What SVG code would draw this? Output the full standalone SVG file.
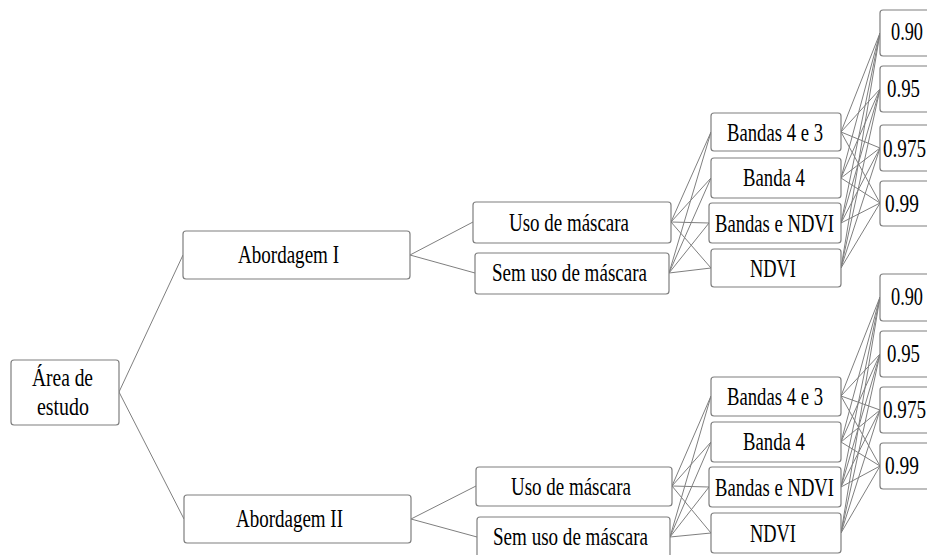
<svg xmlns="http://www.w3.org/2000/svg" width="927" height="555" viewBox="0 0 927 555">
<style>
.box{fill:#fff;stroke:#7f7f7f;stroke-width:1.2}
.c line{stroke:#7f7f7f;stroke-width:1}
</style>
<rect width="927" height="555" fill="#fff"/>
<g class="c" id="connectors">
<line x1="119" y1="392" x2="183" y2="255"/>
<line x1="119" y1="392" x2="184" y2="519"/>
<line x1="410" y1="255" x2="473" y2="222"/>
<line x1="410" y1="255" x2="475" y2="273"/>
<line x1="411" y1="519" x2="476" y2="486"/>
<line x1="411" y1="519" x2="477" y2="537"/>
<line x1="671" y1="222" x2="711" y2="132"/>
<line x1="671" y1="222" x2="711" y2="178"/>
<line x1="671" y1="222" x2="709" y2="223"/>
<line x1="671" y1="222" x2="711" y2="268"/>
<line x1="669" y1="273" x2="711" y2="132"/>
<line x1="669" y1="273" x2="711" y2="178"/>
<line x1="669" y1="273" x2="709" y2="223"/>
<line x1="669" y1="273" x2="711" y2="268"/>
<line x1="672" y1="486" x2="711" y2="396"/>
<line x1="672" y1="486" x2="711" y2="442"/>
<line x1="672" y1="486" x2="709" y2="487"/>
<line x1="672" y1="486" x2="711" y2="533"/>
<line x1="670" y1="537" x2="711" y2="396"/>
<line x1="670" y1="537" x2="711" y2="442"/>
<line x1="670" y1="537" x2="709" y2="487"/>
<line x1="670" y1="537" x2="711" y2="533"/>
<line x1="841" y1="132" x2="880" y2="33"/>
<line x1="841" y1="132" x2="880" y2="89"/>
<line x1="841" y1="132" x2="880" y2="148"/>
<line x1="841" y1="132" x2="880" y2="203"/>
<line x1="841" y1="178" x2="880" y2="33"/>
<line x1="841" y1="178" x2="880" y2="89"/>
<line x1="841" y1="178" x2="880" y2="148"/>
<line x1="841" y1="178" x2="880" y2="203"/>
<line x1="841" y1="223" x2="880" y2="33"/>
<line x1="841" y1="223" x2="880" y2="89"/>
<line x1="841" y1="223" x2="880" y2="148"/>
<line x1="841" y1="223" x2="880" y2="203"/>
<line x1="841" y1="268" x2="880" y2="33"/>
<line x1="841" y1="268" x2="880" y2="89"/>
<line x1="841" y1="268" x2="880" y2="148"/>
<line x1="841" y1="268" x2="880" y2="203"/>
<line x1="841" y1="396" x2="880" y2="297"/>
<line x1="841" y1="396" x2="880" y2="354"/>
<line x1="841" y1="396" x2="880" y2="410"/>
<line x1="841" y1="396" x2="880" y2="466"/>
<line x1="841" y1="442" x2="880" y2="297"/>
<line x1="841" y1="442" x2="880" y2="354"/>
<line x1="841" y1="442" x2="880" y2="410"/>
<line x1="841" y1="442" x2="880" y2="466"/>
<line x1="841" y1="487" x2="880" y2="297"/>
<line x1="841" y1="487" x2="880" y2="354"/>
<line x1="841" y1="487" x2="880" y2="410"/>
<line x1="841" y1="487" x2="880" y2="466"/>
<line x1="841" y1="533" x2="880" y2="297"/>
<line x1="841" y1="533" x2="880" y2="354"/>
<line x1="841" y1="533" x2="880" y2="410"/>
<line x1="841" y1="533" x2="880" y2="466"/>
</g>
<g font-family="'Liberation Serif', 'Times New Roman', serif" font-size="25" fill="#000" lengthAdjust="spacingAndGlyphs">
<g id="area"><rect class="box" x="11" y="360" width="108" height="65" rx="3"/><text x="32" y="386" textLength="61" lengthAdjust="spacingAndGlyphs">Área de</text><text x="37" y="415" textLength="52" lengthAdjust="spacingAndGlyphs">estudo</text></g>
<g id="abI"><rect class="box" x="183" y="231" width="227" height="48" rx="3"/><text x="238" y="263" textLength="101" lengthAdjust="spacingAndGlyphs">Abordagem I</text></g>
<g id="abII"><rect class="box" x="184" y="495" width="227" height="48" rx="3"/><text x="236" y="527" textLength="107" lengthAdjust="spacingAndGlyphs">Abordagem II</text></g>
<g id="uso1"><rect class="box" x="473" y="202" width="198" height="41" rx="3"/><text x="509" y="231" textLength="120" lengthAdjust="spacingAndGlyphs">Uso de máscara</text></g>
<g id="sem1"><rect class="box" x="475" y="253" width="194" height="41" rx="3"/><text x="492" y="281" textLength="155" lengthAdjust="spacingAndGlyphs">Sem uso de máscara</text></g>
<g id="uso2"><rect class="box" x="476" y="467" width="196" height="39" rx="3"/><text x="511" y="495" textLength="120" lengthAdjust="spacingAndGlyphs">Uso de máscara</text></g>
<g id="sem2"><rect class="box" x="477" y="517" width="193" height="42" rx="3"/><text x="493" y="545" textLength="155" lengthAdjust="spacingAndGlyphs">Sem uso de máscara</text></g>
<g id="b43_1"><rect class="box" x="711" y="113" width="130" height="38" rx="3"/><text x="727" y="141" textLength="96" lengthAdjust="spacingAndGlyphs">Bandas 4 e 3</text></g>
<g id="b4_1"><rect class="box" x="711" y="158" width="130" height="40" rx="3"/><text x="743" y="186" textLength="62" lengthAdjust="spacingAndGlyphs">Banda 4</text></g>
<g id="bn_1"><rect class="box" x="709" y="203" width="132" height="40" rx="3"/><text x="715" y="232" textLength="119" lengthAdjust="spacingAndGlyphs">Bandas e NDVI</text></g>
<g id="ndvi_1"><rect class="box" x="711" y="249" width="130" height="38" rx="3"/><text x="750" y="277" textLength="46" lengthAdjust="spacingAndGlyphs">NDVI</text></g>
<g id="b43_2"><rect class="box" x="711" y="377" width="130" height="39" rx="3"/><text x="727" y="405" textLength="96" lengthAdjust="spacingAndGlyphs">Bandas 4 e 3</text></g>
<g id="b4_2"><rect class="box" x="711" y="422" width="130" height="40" rx="3"/><text x="743" y="450" textLength="62" lengthAdjust="spacingAndGlyphs">Banda 4</text></g>
<g id="bn_2"><rect class="box" x="709" y="467" width="132" height="40" rx="3"/><text x="715" y="496" textLength="119" lengthAdjust="spacingAndGlyphs">Bandas e NDVI</text></g>
<g id="ndvi_2"><rect class="box" x="711" y="513" width="130" height="40" rx="3"/><text x="750" y="542" textLength="46" lengthAdjust="spacingAndGlyphs">NDVI</text></g>
<g id="t90_1"><rect class="box" x="880" y="10" width="60" height="46" rx="3"/><text x="891" y="40" textLength="32" lengthAdjust="spacingAndGlyphs">0.90</text></g>
<g id="t95_1"><rect class="box" x="880" y="66" width="60" height="46" rx="3"/><text x="887" y="97" textLength="33" lengthAdjust="spacingAndGlyphs">0.95</text></g>
<g id="t975_1"><rect class="box" x="880" y="125" width="60" height="46" rx="3"/><text x="883" y="157" textLength="43" lengthAdjust="spacingAndGlyphs">0.975</text></g>
<g id="t99_1"><rect class="box" x="880" y="181" width="60" height="45" rx="3"/><text x="885" y="212" textLength="34" lengthAdjust="spacingAndGlyphs">0.99</text></g>
<g id="t90_2"><rect class="box" x="880" y="274" width="60" height="47" rx="3"/><text x="891" y="305" textLength="32" lengthAdjust="spacingAndGlyphs">0.90</text></g>
<g id="t95_2"><rect class="box" x="880" y="331" width="60" height="46" rx="3"/><text x="887" y="362" textLength="33" lengthAdjust="spacingAndGlyphs">0.95</text></g>
<g id="t975_2"><rect class="box" x="880" y="387" width="60" height="46" rx="3"/><text x="883" y="418" textLength="43" lengthAdjust="spacingAndGlyphs">0.975</text></g>
<g id="t99_2"><rect class="box" x="880" y="443" width="60" height="46" rx="3"/><text x="885" y="474" textLength="34" lengthAdjust="spacingAndGlyphs">0.99</text></g>
</g>
</svg>
